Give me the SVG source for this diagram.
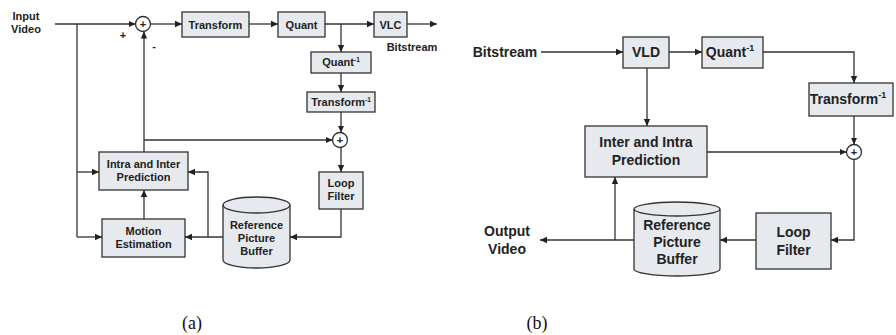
<svg xmlns="http://www.w3.org/2000/svg" width="896" height="335" viewBox="0 0 896 335">
<defs>
<marker id="ah" markerWidth="8" markerHeight="8" refX="7" refY="4" orient="auto" markerUnits="userSpaceOnUse">
<path d="M0,0.8 L7,4 L0,7.2 Z" fill="#222"/>
</marker>
<style>
.box{fill:#e6e9ee;stroke:#333;stroke-width:1.3}
.ln{fill:none;stroke:#333;stroke-width:1.3}
.ar{fill:none;stroke:#333;stroke-width:1.3;marker-end:url(#ah)}
.ta{font-family:"Liberation Sans",Arial,sans-serif;font-weight:bold;font-size:11px;fill:#222;text-anchor:middle}
.tb{font-family:"Liberation Sans",Arial,sans-serif;font-weight:bold;font-size:14px;fill:#222;text-anchor:middle}
.cap{font-family:"Liberation Serif","Times New Roman",serif;font-size:18px;fill:#111;text-anchor:middle}
</style>
</defs>
<rect width="896" height="335" fill="#fff"/>

<!-- Panel (a) -->
<g id="a-input"><text class="ta" x="26" y="20">Input</text><text class="ta" x="26" y="33">Video</text></g>
<g id="a-sum1"><circle cx="143" cy="24" r="7.5" fill="#fff" stroke="#333" stroke-width="1.3"/><text class="ta" x="143" y="28" font-size="12">+</text></g>
<g id="a-plus"><text class="ta" x="123" y="39" font-size="13">+</text></g>
<g id="a-minus"><text class="ta" x="154" y="50" font-size="13">-</text></g>
<g id="a-transform"><rect class="box" x="182" y="12" width="67" height="25"/><text class="ta" x="215.5" y="28.5">Transform</text></g>
<g id="a-quant"><rect class="box" x="278" y="12" width="47" height="25"/><text class="ta" x="301.5" y="28.5">Quant</text></g>
<g id="a-vlc"><rect class="box" x="374" y="12" width="33" height="25"/><text class="ta" x="390.5" y="28.5" font-size="10">VLC</text></g>
<g id="a-bitstream"><text class="ta" x="412" y="51">Bitstream</text></g>
<g id="a-iquant"><rect class="box" x="311" y="52" width="60" height="21"/><text class="ta" x="341" y="66" font-size="9.5">Quant<tspan font-size="6.5" dy="-4">-1</tspan></text></g>
<g id="a-itransform"><rect class="box" x="307" y="92" width="68" height="20"/><text class="ta" x="341" y="106" font-size="9.5">Transform<tspan font-size="6.5" dy="-4">-1</tspan></text></g>
<g id="a-sum2"><circle cx="340" cy="140" r="7.5" fill="#fff" stroke="#333" stroke-width="1.3"/><text class="ta" x="340" y="144" font-size="12">+</text></g>
<g id="a-loop"><rect class="box" x="319" y="172" width="44" height="37"/><text class="ta" x="341" y="187">Loop</text><text class="ta" x="341" y="200">Filter</text></g>
<g id="a-refbuf"><path class="box" d="M223,205 A33.5,8 0 0 1 290,205 L290,260 A33.5,8 0 0 1 223,260 Z"/><path class="ln" d="M223,205 A33.5,8 0 0 0 290,205"/><text class="ta" x="256.5" y="229">Reference</text><text class="ta" x="256.5" y="242">Picture</text><text class="ta" x="256.5" y="255">Buffer</text></g>
<g id="a-pred"><rect class="box" x="99" y="152" width="89" height="38"/><text class="ta" x="143.5" y="168">Intra and Inter</text><text class="ta" x="143.5" y="181">Prediction</text></g>
<g id="a-me"><rect class="box" x="102" y="219" width="83" height="38"/><text class="ta" x="143.5" y="235">Motion</text><text class="ta" x="143.5" y="248">Estimation</text></g>

<g id="a-connectors">
<path class="ar" d="M55,24 L135.5,24"/>
<path class="ln" d="M77,24 L77,237"/>
<path class="ar" d="M77,172 L99,172"/>
<path class="ar" d="M77,237 L102,237"/>
<path class="ar" d="M144,152 L144,31.5"/>
<path class="ar" d="M144,140 L332.5,140"/>
<path class="ar" d="M150.5,24 L182,24"/>
<path class="ar" d="M249,24 L278,24"/>
<path class="ar" d="M325,24 L374,24"/>
<path class="ar" d="M407,24 L437,24"/>
<path class="ar" d="M341,24 L341,52"/>
<path class="ar" d="M341,73 L341,92"/>
<path class="ar" d="M341,112 L341,132.5"/>
<path class="ar" d="M341,147.5 L341,172"/>
<path class="ar" d="M341,209 L341,237 L290,237"/>
<path class="ar" d="M223,237 L185,237"/>
<path class="ar" d="M208,237 L208,172 L188,172"/>
<path class="ar" d="M144,219 L144,190"/>
</g>

<!-- Panel (b) -->
<g id="b-bitstream"><text class="tb" x="505" y="57">Bitstream</text></g>
<g id="b-vld"><rect class="box" x="623" y="37" width="46" height="31"/><text class="tb" x="646" y="57">VLD</text></g>
<g id="b-iquant"><rect class="box" x="702" y="37" width="61" height="31"/><text class="tb" x="730" y="57">Quant<tspan font-size="9" dy="-6">-1</tspan></text></g>
<g id="b-itransform"><rect class="box" x="809" y="83" width="84" height="33"/><text class="tb" x="848" y="104">Transform<tspan font-size="9" dy="-6">-1</tspan></text></g>
<g id="b-sum"><circle cx="854" cy="152" r="7.5" fill="#fff" stroke="#333" stroke-width="1.3"/><text class="ta" x="854" y="156" font-size="12">+</text></g>
<g id="b-pred"><rect class="box" x="585" y="126" width="122" height="51"/><text class="tb" x="646" y="147">Inter and Intra</text><text class="tb" x="646" y="165">Prediction</text></g>
<g id="b-loop"><rect class="box" x="756" y="213" width="75" height="56"/><text class="tb" x="793.5" y="237">Loop</text><text class="tb" x="793.5" y="255">Filter</text></g>
<g id="b-refbuf"><path class="box" d="M634,209 A43,7 0 0 1 720,209 L720,269 A43,7 0 0 1 634,269 Z"/><path class="ln" d="M634,209 A43,7 0 0 0 720,209"/><text class="tb" x="677" y="230">Reference</text><text class="tb" x="677" y="247">Picture</text><text class="tb" x="677" y="264">Buffer</text></g>
<g id="b-output"><text class="tb" x="507" y="236">Output</text><text class="tb" x="507" y="254">Video</text></g>

<g id="b-connectors">
<path class="ar" d="M541,52 L623,52"/>
<path class="ar" d="M669,52 L702,52"/>
<path class="ar" d="M763,52 L854,52 L854,83"/>
<path class="ar" d="M854,116 L854,144.5"/>
<path class="ar" d="M647,68 L647,126"/>
<path class="ar" d="M707,152 L846.5,152"/>
<path class="ar" d="M854,159.5 L854,240 L831,240"/>
<path class="ar" d="M756,240 L720,240"/>
<path class="ar" d="M634,240 L540,240"/>
<path class="ar" d="M615,240 L615,177"/>
</g>

<g id="captions"><text class="cap" x="192" y="329">(a)</text><text class="cap" x="537" y="329">(b)</text></g>
</svg>
